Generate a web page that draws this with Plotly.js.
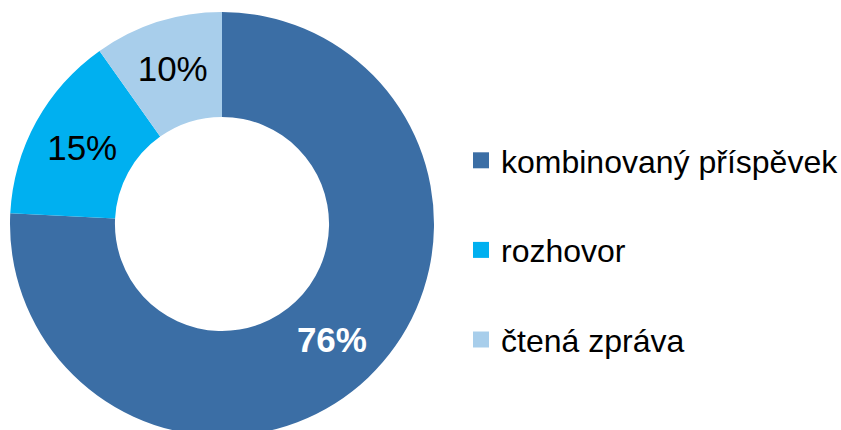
<!DOCTYPE html>
<html><head><meta charset="utf-8">
<script src="https://cdn.plot.ly/plotly-3.0.1.min.js"></script>
<style>html,body{margin:0;padding:0;overflow:hidden;background:#fff}#chart{width:880px;height:440px}</style>
</head><body><div id="chart"></div>
<script>
const categories = ["kombinovaný příspěvek", "rozhovor", "čtená zpráva"];
const shares = [75.8, 14.4, 9.8];
const percentLabels = ["76%", "15%", "10%"];
const colors = ["#3B6EA5", "#00B0F0", "#A8CEEB"];
const textColors = ["#FFFFFF", "#000000", "#000000"];
const textFonts = ["Liberation Sans", "Liberation Sans", "Liberation Sans"];
const textWeights = ["bold", "normal", "normal"];

const W = 880, H = 440, cx = 222, cyTop = 224, R = 212;

const pie = {
  type: "pie",
  labels: categories,
  values: shares,
  text: percentLabels,
  textinfo: "text",
  textposition: "inside",
  insidetextorientation: "horizontal",
  hole: 0.505,
  sort: false,
  direction: "clockwise",
  rotation: 0,
  marker: {colors: colors, line: {width: 0}},
  textfont: {size: 35, color: textColors, family: textFonts, weight: textWeights},
  showlegend: false,
  domain: {x: [(cx - R) / W, (cx + R) / W], y: [(H - cyTop - R) / H, (H - cyTop + R) / H]},
  hoverinfo: "label+text"
};

const legendTraces = categories.map((c, i) => ({
  type: "scatter", mode: "markers", x: [null], y: [null], name: c,
  legendgroup: "g" + i,
  marker: {symbol: "square", size: 16, color: colors[i]},
  showlegend: true, xaxis: "x", yaxis: "y"
}));

const layout = {
  width: W, height: H,
  margin: {l: 0, r: 0, t: 0, b: 0},
  paper_bgcolor: "#fff", plot_bgcolor: "rgba(0,0,0,0)",
  xaxis: {visible: false, domain: [0.95, 1]},
  yaxis: {visible: false, domain: [0.95, 1]},
  showlegend: true,
  legend: {
    x: 461 / W, xanchor: "left", y: 1 - 133 / H, yanchor: "top",
    font: {family: "Liberation Sans", size: 32, color: "#000"},
    tracegroupgap: 45, bgcolor: "rgba(0,0,0,0)", borderwidth: 0
  }
};

Plotly.newPlot("chart", [pie].concat(legendTraces), layout, {staticPlot: true, displayModeBar: false});
</script></body></html>
